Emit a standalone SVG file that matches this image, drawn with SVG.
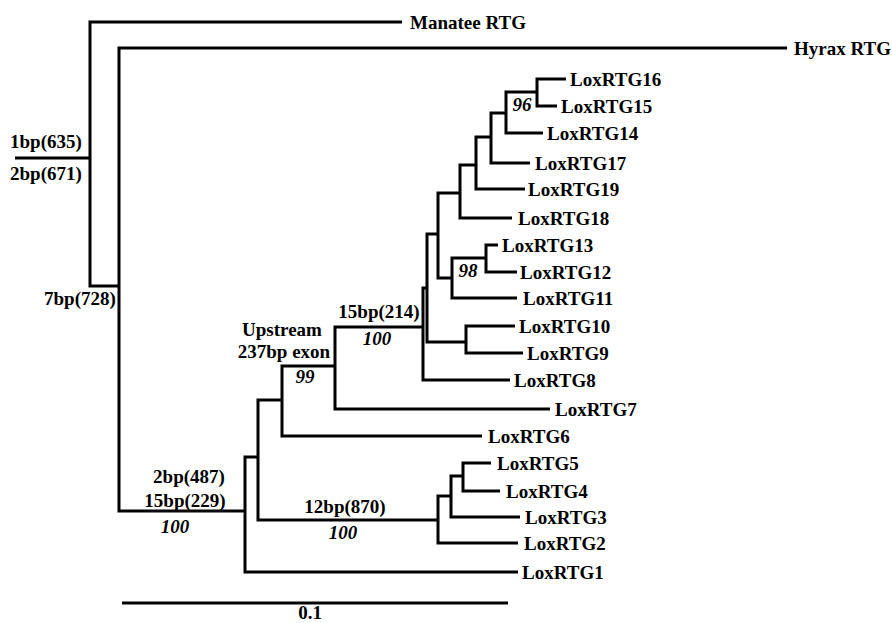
<svg xmlns="http://www.w3.org/2000/svg" width="892" height="623" viewBox="0 0 892 623">
<style>
.br{fill:none;stroke:#000;stroke-width:3;stroke-linecap:butt;stroke-linejoin:miter}
text{font-family:"Liberation Serif","Times New Roman",serif;font-weight:bold;font-size:19px;fill:#000}
.it{font-style:italic}
.mid{text-anchor:middle}
</style>
<rect width="892" height="623" fill="#fff"/>
<g id="connectors">
<path class="br" d="M15,158 H90"/>
<path class="br" d="M402,22 H90 V286 H119"/>
<path class="br" d="M787,48 H119 V511 H245"/>
<path class="br" d="M258,457 H245 V572 H518"/>
<path class="br" d="M282,400 H258 V520 H438"/>
<path class="br" d="M335,366 H282 V436 H482"/>
<path class="br" d="M423,327 H335 V409 H550"/>
<path class="br" d="M427,288 H423 V380 H510"/>
<path class="br" d="M438,234 H427 V342 H466"/>
<path class="br" d="M460,193 H438 V278 H452"/>
<path class="br" d="M476,165 H460 V218 H512"/>
<path class="br" d="M491,137 H476 V189 H525"/>
<path class="br" d="M506,113 H491 V163 H530"/>
<path class="br" d="M537,92 H506 V133 H543"/>
<path class="br" d="M566,79 H537 V106 H557"/>
<path class="br" d="M486,258 H452 V298 H517"/>
<path class="br" d="M498,245 H486 V272 H517"/>
<path class="br" d="M515,326 H466 V353 H523"/>
<path class="br" d="M451,496 H438 V543 H518"/>
<path class="br" d="M463,476 H451 V517 H520"/>
<path class="br" d="M491,463 H463 V491 H500"/>
</g>
<g id="scale-bar">
<path class="br" d="M122,603 H508"/>
<text x="310" y="619" class="mid">0.1</text>
</g>
<g id="manatee"><text x="410" y="29">Manatee RTG</text></g>
<g id="hyrax"><text x="794" y="55">Hyrax RTG</text></g>
<g id="lox16"><text x="570" y="86">LoxRTG16</text></g>
<g id="lox15"><text x="561" y="113">LoxRTG15</text></g>
<g id="lox14"><text x="547" y="140">LoxRTG14</text></g>
<g id="lox17"><text x="535" y="170">LoxRTG17</text></g>
<g id="lox19"><text x="528" y="196">LoxRTG19</text></g>
<g id="lox18"><text x="518" y="225">LoxRTG18</text></g>
<g id="lox13"><text x="502" y="252">LoxRTG13</text></g>
<g id="lox12"><text x="520" y="279">LoxRTG12</text></g>
<g id="lox11"><text x="523" y="305">LoxRTG11</text></g>
<g id="lox10"><text x="519" y="333">LoxRTG10</text></g>
<g id="lox9"><text x="527" y="360">LoxRTG9</text></g>
<g id="lox8"><text x="514" y="387">LoxRTG8</text></g>
<g id="lox7"><text x="555" y="416">LoxRTG7</text></g>
<g id="lox6"><text x="488" y="443">LoxRTG6</text></g>
<g id="lox5"><text x="497" y="470">LoxRTG5</text></g>
<g id="lox4"><text x="506" y="498">LoxRTG4</text></g>
<g id="lox3"><text x="525" y="524">LoxRTG3</text></g>
<g id="lox2"><text x="524" y="550">LoxRTG2</text></g>
<g id="lox1"><text x="522" y="579">LoxRTG1</text></g>
<g id="root-node">
<text x="10" y="148">1bp(635)</text>
<text x="10" y="180">2bp(671)</text>
</g>
<g id="node-7bp"><text x="44" y="305">7bp(728)</text></g>
<g id="node-lox-all">
<text x="189" y="483" class="mid">2bp(487)</text>
<text x="185" y="507" class="mid">15bp(229)</text>
<text x="175" y="533" class="mid it">100</text>
</g>
<g id="node-12bp">
<text x="345" y="513" class="mid">12bp(870)</text>
<text x="343" y="539" class="mid it">100</text>
</g>
<g id="node-upstream">
<text x="282" y="336" class="mid">Upstream</text>
<text x="284" y="358" class="mid">237bp exon</text>
<text x="305" y="383" class="mid it">99</text>
</g>
<g id="node-15bp">
<text x="379" y="318" class="mid">15bp(214)</text>
<text x="377" y="345" class="mid it">100</text>
</g>
<g id="node-96"><text x="522" y="111" class="mid it">96</text></g>
<g id="node-98"><text x="468" y="277" class="mid it">98</text></g>
</svg>
